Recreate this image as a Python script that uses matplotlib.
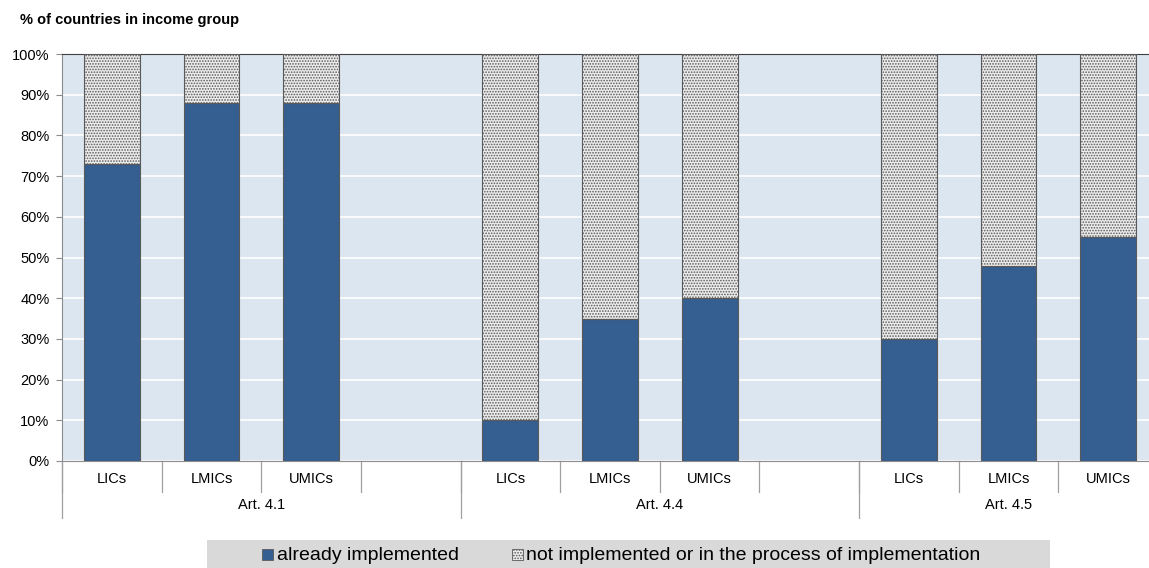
import matplotlib
matplotlib.use("Agg")
import matplotlib.pyplot as plt
from matplotlib.patches import Rectangle
import numpy as np

plt.rcParams['font.family'] = ['Liberation Sans', 'DejaVu Sans']
plt.rcParams['hatch.color'] = '#8c8c8c'
plt.rcParams['hatch.linewidth'] = 0.8

articles = ["Art. 4.1", "Art. 4.4", "Art. 4.5"]
groups = ["LICs", "LMICs", "UMICs"]
implemented = [[73, 88, 88], [10, 35, 40], [30, 48, 55]]
series_names = ["already implemented", "not implemented or in the process of implementation"]

blue = '#355e91'
bg = '#dce6f1'

fig = plt.figure(figsize=(11.49, 5.68), dpi=100)
# plot area runs a little past the right edge of the figure
ax = fig.add_axes([62 / 1149, 1 - 461 / 568, 1096 / 1149, 407 / 568])
ax.set_facecolor(bg)

slots = 4 * len(articles) - 1
for a, vals in enumerate(implemented):
    for g, v in enumerate(vals):
        x = a * 4 + g + 0.5
        ax.bar(x, v, width=0.56, color=blue, edgecolor='#5a5a5a', linewidth=0.8, zorder=3)
        ax.bar(x, 100 - v, bottom=v, width=0.56, color='#ececec', hatch='......',
               edgecolor='#5a5a5a', linewidth=0.8, zorder=3)

ax.set_xlim(0, slots)
ax.set_ylim(0, 100)
ax.set_yticks(np.arange(0, 101, 10))
ax.set_yticklabels([f"{t}%" for t in range(0, 101, 10)], fontsize=10.5)
ax.yaxis.grid(True, color='white', linewidth=1.2, zorder=0)
ax.set_axisbelow(True)
ax.tick_params(axis='y', length=4, color='#8c8c8c', pad=5)
ax.set_xticks([])
ax.spines['right'].set_visible(False)
ax.spines['top'].set_color('#404040')
ax.spines['left'].set_color('#8c8c8c')
ax.spines['bottom'].set_color('#8c8c8c')

# two-level category axis
trans = ax.get_xaxis_transform()
for a, art in enumerate(articles):
    for k in range(4):
        s = a * 4 + k
        if s >= slots:
            break
        if k < 3:
            ax.text(s + 0.5, -0.045, groups[k], transform=trans, ha='center', va='center',
                    fontsize=10.5, clip_on=False)
        ax.plot([s, s], [0, -0.075], transform=trans, color='#a0a0a0', lw=0.9, clip_on=False)
    ax.plot([a * 4, a * 4], [0, -0.14], transform=trans, color='#a0a0a0', lw=0.9, clip_on=False)
    ax.text(a * 4 + 2.0 if a < 2 else a * 4 + 1.5, -0.108, art, transform=trans,
            ha='center', va='center', fontsize=10.5, clip_on=False)

fig.text(20 / 1149, 1 - 20 / 568, "% of countries in income group", fontsize=10.5,
         fontweight='bold', ha='left', va='center')

# legend strip
fig.patches.append(Rectangle((207 / 1149, 0), 843 / 1149, 28 / 568, transform=fig.transFigure,
                             facecolor='#d9d9d9', edgecolor='none'))
fig.patches.append(Rectangle((262 / 1149, 8 / 568), 11 / 1149, 11 / 568, transform=fig.transFigure,
                             facecolor=blue, edgecolor='#5a5a5a', lw=0.6))
fig.patches.append(Rectangle((512 / 1149, 8 / 568), 11 / 1149, 11 / 568, transform=fig.transFigure,
                             facecolor='#ececec', hatch='......', edgecolor='#5a5a5a', lw=0.6))
fig.text(277 / 1149, 13 / 568, series_names[0], fontsize=14, ha='left', va='center')
fig.text(526 / 1149, 13 / 568, series_names[1], fontsize=14, ha='left', va='center')

fig.savefig("out.png", dpi=100)
